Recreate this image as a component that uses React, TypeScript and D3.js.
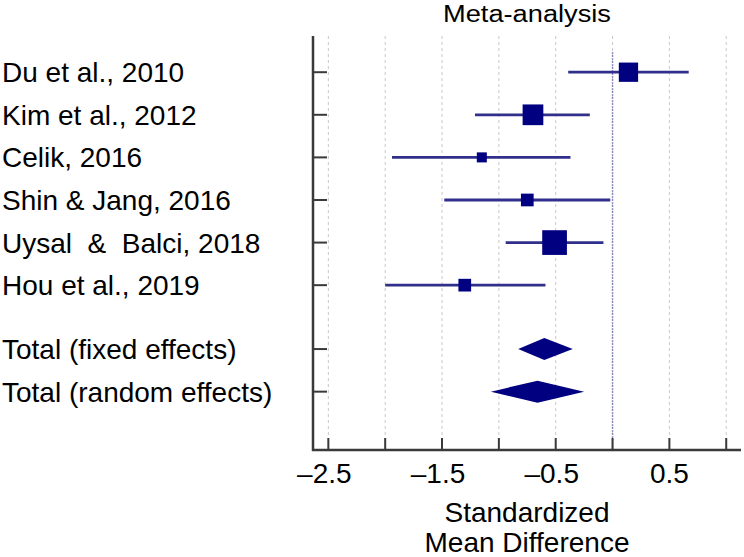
import React from "react";
import * as d3 from "d3";

const studies = [
  "Du et al., 2010",
  "Kim et al., 2012",
  "Celik, 2016",
  "Shin & Jang, 2016",
  "Uysal \u00A0&\u00A0 Balci, 2018",
  "Hou et al., 2019",
];
const estimates = [0.14, -0.7, -1.15, -0.75, -0.51, -1.3];
const lower = [-0.39, -1.21, -1.94, -1.48, -0.94, -2.0];
const upper = [0.67, -0.2, -0.37, -0.02, -0.08, -0.59];
const weights = [20.3, 23.4, 5.5, 8.8, 33.3, 8.8];

const totals = ["Total (fixed effects)", "Total (random effects)"];
const totalEst = [-0.6, -0.66];
const totalLower = [-0.83, -1.07];
const totalUpper = [-0.35, -0.25];

const tickValues = [-2.5, -2, -1.5, -1, -0.5, 0, 0.5, 1];
const tickLabels = ["\u20132.5", "", "\u20131.5", "", "\u20130.5", "", "0.5", ""];

const studyRows = [0, 1, 2, 3, 4, 5];
const totalRows = [6.5, 7.5];

const W = 744;
const H = 557;
const FONT = "'Liberation Sans', Arial, Helvetica, sans-serif";

export default function App() {
  const x = d3.scaleLinear().domain([-2.635, 1.13]).range([313, 741]);
  const y = d3.scaleLinear().domain([-0.85, 8.87]).range([36, 450]);
  const sizeScale = d3.scaleSqrt().domain([0, 33.3]).range([0, 24.7]);
  const navy = "#000080";
  const ciColor = "#30308c";
  const axisColor = "#3a3a3a";
  const [x0, x1] = x.range();
  const [yTop, yBot] = y.range();

  return (
    <svg
      width={W}
      height={H}
      style={{ position: "absolute", left: 0, top: 0, background: "#fff" }}
      fontFamily={FONT}
    >
      <rect x={0} y={0} width={W} height={H} fill="#fff" />
      {/* title */}
      <text
        x={(x0 + x1) / 2}
        y={21.5}
        textAnchor="middle"
        fontSize={23.5}
        textLength={168}
        lengthAdjust="spacingAndGlyphs"
        fill="#000"
      >
        Meta-analysis
      </text>

      {/* grid lines */}
      {tickValues.map((t) => (
        <line
          key={"g" + t}
          x1={x(t)}
          x2={x(t)}
          y1={yTop}
          y2={yBot}
          stroke="#c8c8c8"
          strokeWidth={1}
          strokeDasharray="3,3"
        />
      ))}

      {/* zero line */}
      <line
        x1={x(0)}
        x2={x(0)}
        y1={y(0) - 20}
        y2={yBot}
        stroke="#7474b4"
        strokeWidth={1.5}
        strokeDasharray="1.5,1.5"
      />

      {/* study CIs and squares */}
      {studies.map((s, i) => {
        const cy = y(studyRows[i]);
        const sz = sizeScale(weights[i]);
        return (
          <g key={s}>
            <line
              x1={x(lower[i])}
              x2={x(upper[i])}
              y1={cy}
              y2={cy}
              stroke={ciColor}
              strokeWidth={2.8}
            />
            <rect
              x={x(estimates[i]) - sz / 2}
              y={cy - sz / 2}
              width={sz}
              height={sz}
              fill={navy}
            />
          </g>
        );
      })}

      {/* diamonds */}
      {totals.map((t, i) => {
        const cy = y(totalRows[i]);
        const h = 11;
        const pts = [
          [x(totalLower[i]), cy],
          [x(totalEst[i]), cy - h],
          [x(totalUpper[i]), cy],
          [x(totalEst[i]), cy + h],
        ];
        return <polygon key={t} points={pts.map((p) => p.join(",")).join(" ")} fill={navy} />;
      })}

      {/* left axis */}
      <line x1={x0} x2={x0} y1={yTop} y2={yBot + 1} stroke={axisColor} strokeWidth={2.5} />
      {[...studyRows, ...totalRows].map((r) => (
        <line key={"yt" + r} x1={x0} x2={x0 + 14} y1={y(r)} y2={y(r)} stroke={axisColor} strokeWidth={2} />
      ))}

      {/* bottom axis */}
      <line x1={x0 - 1} x2={x1} y1={yBot} y2={yBot} stroke={axisColor} strokeWidth={2.5} />
      {tickValues.map((t) => (
        <line key={"xt" + t} x1={x(t)} x2={x(t)} y1={yBot} y2={yBot - 12} stroke={axisColor} strokeWidth={2} />
      ))}
      {tickValues.map((t, i) =>
        tickLabels[i] ? (
          <text key={"xl" + t} x={x(t) - (t < 0 ? 4 : 0)} y={483} textAnchor="middle" fontSize={28} fill="#000">
            {tickLabels[i]}
          </text>
        ) : null
      )}

      {/* axis title */}
      <text x={(x0 + x1) / 2} y={522} textAnchor="middle" fontSize={28} fill="#000">
        Standardized
      </text>
      <text x={(x0 + x1) / 2} y={552} textAnchor="middle" fontSize={28} fill="#000">
        Mean Difference
      </text>

      {/* row labels */}
      {studies.map((s, i) => (
        <text key={"l" + s} x={2} y={y(studyRows[i]) + 10} fontSize={28} fill="#000" style={{ whiteSpace: "pre" }}>
          {s}
        </text>
      ))}
      {totals.map((t, i) => (
        <text key={"l" + t} x={2} y={y(totalRows[i]) + 10} fontSize={28} fill="#000">
          {t}
        </text>
      ))}
    </svg>
  );
}
